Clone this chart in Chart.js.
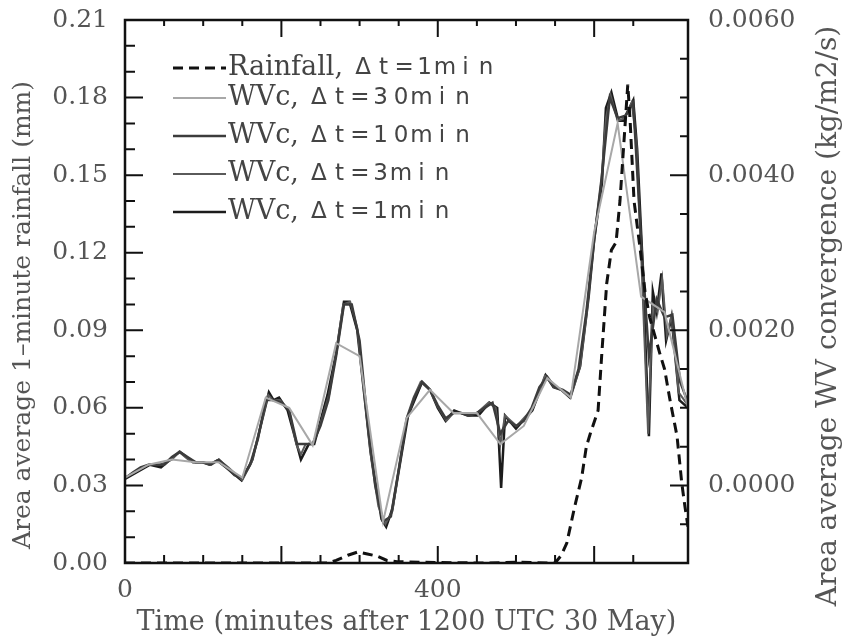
<!DOCTYPE html>
<html>
<head>
<meta charset="utf-8">
<script src="https://cdn.jsdelivr.net/npm/chart.js@4/dist/chart.umd.min.js"></script>
<style>
  body { margin: 0; background: #fff; }
</style>
</head>
<body>
<canvas id="wvc-chart" width="842" height="643"></canvas>
<script>
// rainfall (mm, left axis)
const rainT = [0, 260, 270, 285, 298, 310, 322, 335, 348, 400, 460, 500, 540, 550, 558, 565, 575, 584, 590, 595,
  605, 610, 616, 622, 628, 633, 637, 641, 643, 646, 651, 659, 665, 671, 684, 690, 697, 706, 712, 716, 720]
const rainV = [0, 0, 0.001, 0.003, 0.0043, 0.0035, 0.0027, 0.001, 0.0005, 0.0002, 0, 0.0003, 0, 0, 0.003, 0.0077, 0.0217, 0.033, 0.045, 0.050,
  0.059, 0.082, 0.108, 0.121, 0.124, 0.140, 0.158, 0.176, 0.185, 0.171, 0.140, 0.121, 0.105, 0.095, 0.081, 0.075, 0.063, 0.049, 0.031, 0.022, 0.014]

// WV convergence (kg/m2/s, right axis)
const wv30T = [0, 30, 60, 90, 120, 150, 180, 210, 240, 270, 300, 330, 360, 390, 420, 450, 480, 510, 540, 570, 600, 630, 660, 690, 720]
const wv30V = [0.0001, 0.000267, 0.000333, 0.0003, 0.0003, 0.0001, 0.001133, 0.001, 0.000517, 0.001833, 0.001667, -0.000467, 0.000867,
  0.001233, 0.000933, 0.000933, 0.000533, 0.000767, 0.001383, 0.001133, 0.003267, 0.004667, 0.002433, 0.002233, 0.001]

const wv10T = [0, 10, 20, 30, 40, 50, 60, 70, 80, 90, 100, 110, 120, 130, 140, 150, 160, 170, 180, 190, 200, 210, 220, 230, 240,
  250, 260, 270, 280, 290, 300, 310, 320, 330, 340, 350, 360, 370, 380, 390, 400, 410, 420, 430, 440, 450, 460, 470, 480, 490,
  500, 510, 520, 530, 540, 550, 560, 570, 580, 590, 600, 610, 620, 630, 640, 650, 660, 670, 680, 690, 700, 710, 720]
const wv10V = [0.000093, 0.000167, 0.000233, 0.000267, 0.000267, 0.000267, 0.000367, 0.000433, 0.000367, 0.0003, 0.0003, 0.000267,
  0.000333, 0.000233, 0.000133, 0.0001, 0.000267, 0.0006, 0.0011, 0.0011, 0.001067, 0.000967, 0.000533, 0.000533, 0.000533,
  0.000767, 0.0011, 0.001667, 0.002333, 0.002333, 0.001867, 0.000833, 0.0, -0.000467, -0.0004, 0.0002, 0.000833, 0.001133,
  0.001333, 0.001233, 0.001033, 0.000867, 0.000933, 0.000933, 0.0009, 0.000933, 0.001, 0.001067, 0.000667, 0.000833,
  0.000767, 0.000833, 0.001, 0.001267, 0.0014, 0.001267, 0.001233, 0.001167, 0.0015, 0.002233, 0.003167, 0.004, 0.005,
  0.004733, 0.004767, 0.004933, 0.003167, 0.001667, 0.0024, 0.002167, 0.0022, 0.001333, 0.001067]

const wv3T = [0, 30, 45, 60, 69, 81, 90, 99, 108, 120, 132, 150, 162, 171, 183, 189, 198, 210, 219, 225, 231, 240, 249, 261,
  270, 279, 288, 297, 306, 315, 324, 333, 342, 351, 360, 369, 378, 390, 399, 411, 420, 450, 465, 474, 480, 486, 501, 522,
  537, 549, 558, 570, 582, 591, 600, 609, 615, 621, 630, 639, 648, 654, 660, 669, 675, 681, 687, 693, 699, 708, 720]
const wv3V = [0.0001, 0.000267, 0.000267, 0.000333, 0.000433, 0.000333, 0.0003, 0.0003, 0.000267, 0.000333, 0.000233, 0.000067,
  0.0003, 0.000667, 0.001167, 0.0011, 0.0011, 0.000967, 0.000533, 0.0004, 0.000533, 0.000533, 0.000767, 0.001167,
  0.0017, 0.002333, 0.002367, 0.002033, 0.001167, 0.000333, -0.000267, -0.0005, -0.000333, 0.000267, 0.000867, 0.001133,
  0.001333, 0.001233, 0.001033, 0.000833, 0.000933, 0.000933, 0.001067, 0.001, 0.000533, 0.0009, 0.000767, 0.001,
  0.001417, 0.001267, 0.001233, 0.001133, 0.001533, 0.002267, 0.0032, 0.0039, 0.004733, 0.005033, 0.0047, 0.004733,
  0.004933, 0.004433, 0.003, 0.000667, 0.002333, 0.002233, 0.002667, 0.001933, 0.0022, 0.0012, 0.001033]

const wv1T = [0, 32, 46, 70, 87, 98, 108, 118, 129, 149, 163, 184, 190, 197, 208, 225, 235, 242, 259, 270,
  280, 287, 297, 314, 328, 334, 342, 362, 380, 390, 400, 410, 421, 438, 452, 466, 476, 481, 486, 500,
  521, 538, 548, 558, 569, 582, 593, 600, 610, 615, 622, 631, 637, 650, 655, 661, 670, 675, 680, 686,
  692, 699, 709, 720]
const wv1V = [0.000083, 0.000267, 0.000233, 0.000433, 0.0003, 0.0003, 0.000267, 0.00032, 0.000233, 0.000067,
  0.000333, 0.0012, 0.0011, 0.001133, 0.000967, 0.000333, 0.000533, 0.000533, 0.001167, 0.0017,
  0.002367, 0.002367, 0.002, 0.000433, -0.000433, -0.000533, -0.0003, 0.0009, 0.001333, 0.001233,
  0.001, 0.000833, 0.000967, 0.0009, 0.0009, 0.001067, 0.001, -0.000033, 0.0009, 0.000733,
  0.000967, 0.00142, 0.001267, 0.001233, 0.001133, 0.001533, 0.002433, 0.003167, 0.0039, 0.004867,
  0.005067, 0.0047, 0.0047, 0.004967, 0.004333, 0.003067, 0.000633, 0.0025, 0.002233, 0.002733,
  0.001867, 0.002167, 0.0011, 0.001]

// tick labels
const xLabelValues = [0, 400]
const seriesLabels = ["Rainfall, \u0394t=1min", "WVc, \u0394t=30min", "WVc, \u0394t=10min", "WVc, \u0394t=3min", "WVc, \u0394t=1min"]
const leftTitle = "Area average 1\u2013minute rainfall (mm)"
const rightTitle = "Area average WV convergence (kg/m2/s)"
const bottomTitle = "Time (minutes after 1200 UTC 30 May)"

function pts(ts, vs) {
  return ts.map((t, i) => ({ x: t, y: vs[i] }))
}

const textColor = "#555"
const tickFont = { family: "DejaVu Serif", size: 25 }

// inward ticks, frame, legend and y titles
const framePlugin = {
  id: "frame",
  afterDraw(chart) {
    const { ctx, chartArea: a, scales } = chart
    ctx.save()
    ctx.strokeStyle = "#111"
    ctx.lineWidth = 2
    ctx.beginPath()
    scales.x.ticks.forEach(t => {
      const px = scales.x.getPixelForValue(t.value)
      const major = t.value % 200 === 0
      ctx.moveTo(px, a.bottom); ctx.lineTo(px, a.bottom - (major ? 17 : 8))
      ctx.moveTo(px, a.top); ctx.lineTo(px, a.top + (major ? 17 : 6))
    })
    scales.y.ticks.forEach(t => {
      const py = scales.y.getPixelForValue(t.value)
      const major = Math.round(t.value * 100) % 3 === 0
      ctx.moveTo(a.left, py); ctx.lineTo(a.left + (major ? 18 : 10), py)
    })
    scales.y1.ticks.forEach(t => {
      const py = scales.y1.getPixelForValue(t.value)
      const major = Math.round(t.value * 10000) % 20 === 0
      ctx.moveTo(a.right, py); ctx.lineTo(a.right - (major ? 18 : 8), py)
    })
    ctx.stroke()
    ctx.lineWidth = 2.5
    ctx.strokeRect(a.left, a.top, a.right - a.left, a.bottom - a.top)

    // y axis titles, both reading bottom to top
    ctx.fillStyle = textColor
    ctx.textAlign = "center"
    ctx.textBaseline = "middle"
    ctx.font = "25px 'DejaVu Serif'"
    ctx.translate(23, 315)
    ctx.rotate(-Math.PI / 2)
    ctx.fillText(leftTitle, 0, 0)
    ctx.setTransform(1, 0, 0, 1, 0, 0)
    ctx.font = "28px 'DejaVu Serif'"
    ctx.translate(829, 316)
    ctx.rotate(-Math.PI / 2)
    ctx.fillText(rightTitle, 0, 0)
    ctx.setTransform(1, 0, 0, 1, 0, 0)

    // legend
    const rows = [68, 98, 136, 174, 212]
    chart.data.datasets.forEach((ds, i) => {
      const y = rows[i]
      ctx.strokeStyle = ds.borderColor
      ctx.lineWidth = ds.borderWidth
      ctx.setLineDash(ds.borderDash || [])
      ctx.beginPath()
      ctx.moveTo(173, y); ctx.lineTo(226, y)
      ctx.stroke()
      ctx.setLineDash([])
      const parts = ds.label.split(", ")
      ctx.fillStyle = "#444"
      ctx.textAlign = "left"
      ctx.font = "27px 'DejaVu Serif'"
      const head = parts[0] + ","
      ctx.fillText(head, 228, y)
      let x = 228 + ctx.measureText(head).width + 10
      ctx.font = "23px 'DejaVu Sans'"
      ctx.textAlign = "center"
      for (const ch of parts[1]) {
        ctx.fillText(ch, x + 10, y)
        x += 20.5
      }
    })
    ctx.restore()
  }
}

// keep the y scales from reserving room for the end labels
function fitY(width) {
  return s => {
    s.width = width
    s.paddingTop = 0
    s.paddingBottom = 0
  }
}

new Chart(document.getElementById("wvc-chart"), {
  type: "line",
  data: {
    datasets: [
      { label: seriesLabels[0], data: pts(rainT, rainV), yAxisID: "y", borderColor: "#111", borderWidth: 3, borderDash: [10, 6] },
      { label: seriesLabels[1], data: pts(wv30T, wv30V), yAxisID: "y1", borderColor: "#a8a8a8", borderWidth: 2 },
      { label: seriesLabels[2], data: pts(wv10T, wv10V), yAxisID: "y1", borderColor: "#3c3c3c", borderWidth: 2.5 },
      { label: seriesLabels[3], data: pts(wv3T, wv3V), yAxisID: "y1", borderColor: "#5a5a5a", borderWidth: 2 },
      { label: seriesLabels[4], data: pts(wv1T, wv1V), yAxisID: "y1", borderColor: "#1c1c1c", borderWidth: 2.5 }
    ]
  },
  options: {
    responsive: false,
    animation: false,
    layout: { padding: { top: 20 } },
    elements: { point: { radius: 0 }, line: { tension: 0, fill: false } },
    plugins: { legend: { display: false }, tooltip: { enabled: false } },
    scales: {
      x: {
        type: "linear", min: 0, max: 720,
        grid: { display: false, drawTicks: false }, border: { display: false },
        ticks: {
          stepSize: 50, autoSkip: false, maxRotation: 0, padding: 12, font: tickFont, color: textColor,
          callback: v => xLabelValues.includes(v) ? String(v) : ""
        },
        title: { display: true, text: bottomTitle, font: { family: "DejaVu Serif", size: 27 }, color: textColor, padding: { top: 0, bottom: 4 } },
        afterFit: s => { s.height = 80 }
      },
      y: {
        position: "left", min: 0, max: 0.21,
        grid: { display: false, drawTicks: false }, border: { display: false },
        ticks: {
          stepSize: 0.01, autoSkip: false, padding: 17, font: tickFont, color: textColor,
          callback: v => Math.round(v * 100) % 3 === 0 ? v.toFixed(2) : ""
        },
        afterFit: fitY(125)
      },
      y1: {
        position: "right", min: -0.001, max: 0.006,
        grid: { display: false, drawTicks: false }, border: { display: false },
        ticks: {
          stepSize: 0.0005, autoSkip: false, padding: 20, font: tickFont, color: textColor,
          callback: v => {
            const k = Math.round(v * 10000)
            return k >= 0 && k % 20 === 0 ? v.toFixed(4) : ""
          }
        },
        afterFit: fitY(154)
      }
    }
  },
  plugins: [framePlugin]
});
</script>
</body>
</html>
